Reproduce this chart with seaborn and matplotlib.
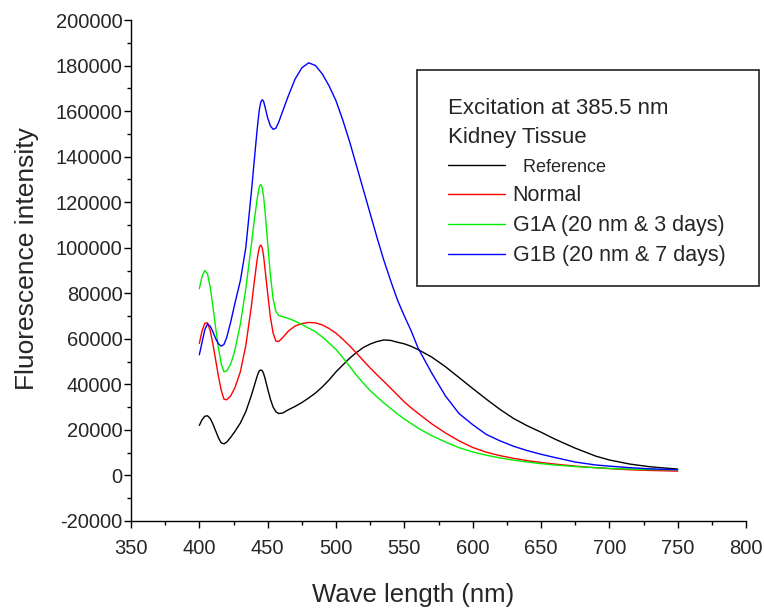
import numpy as np
import pandas as pd
import matplotlib
matplotlib.use("Agg")
import matplotlib.pyplot as plt
import seaborn as sns
from matplotlib.lines import Line2D
from matplotlib.patches import Rectangle
from matplotlib.ticker import MultipleLocator

# ---- data ----
wavelength = [400, 402, 404, 406, 408, 410, 412, 414, 416, 418, 420, 423, 426, 430, 434,
              438, 440, 442, 443, 444, 445, 446, 447, 448, 450, 452, 454, 456, 458, 461,
              465, 470, 475, 480, 485, 490, 495, 500, 505, 510, 515, 520, 525, 530, 535,
              540, 545, 550, 555, 560, 570, 580, 590, 600, 610, 620, 630, 640, 650, 660,
              675, 690, 700, 715, 730, 750]

reference = [22000, 24500, 26000, 26200, 25000, 22500, 19500, 16500, 14300, 13900,
             14600, 16800, 19300, 23000, 28000, 35000, 39000, 43000, 44800, 46000,
             46300, 46000, 44800, 42800, 38000, 33500, 30000, 28000, 27200, 27400,
             28800, 30300, 32000, 34000, 36200, 38900, 42000, 45500, 48500, 51500,
             54000, 56200, 57700, 58800, 59500, 59300, 58500, 57800, 56700, 55300,
             52000, 47800, 43000, 38200, 33500, 29000, 25000, 21800, 19000, 16000,
             12000, 8500, 6800, 5000, 3800, 2800]

normal = [58000, 63500, 66800, 67000, 63500, 57500, 50500, 43500, 37500, 33500,
          33200, 35000, 38500, 45500, 57000, 74000, 84000, 93500, 97500, 100300,
          101200, 100000, 96500, 91000, 80000, 69500, 62500, 59000, 58800, 60500,
          63300, 65600, 66700, 67200, 67000, 66100, 64500, 62500, 59800, 56900,
          53700, 50400, 47200, 44200, 41300, 38300, 35300, 32300, 29700, 27300,
          22700, 18700, 15200, 12300, 10200, 8700, 7500, 6500, 5700, 5000,
          4100, 3400, 3000, 2500, 2200, 1900]

g1a = [82000, 87500, 90000, 88500, 82500, 74000, 64500, 56000, 49000, 45600,
       45800, 49000, 55000, 66500, 82000, 101000, 111000, 120000, 124000, 127000,
       127800, 126500, 122500, 116500, 102000, 88000, 77500, 72000, 70300, 69700,
       69000, 67800, 66300, 64700, 63100, 60800, 58100, 55300, 51700, 47900,
       44000, 40500, 37300, 34500, 31900, 29400, 27000, 24800, 22800, 20800,
       17500, 14700, 12200, 10300, 8900, 7700, 6700, 5900, 5200, 4600,
       3900, 3400, 3100, 2800, 2600, 2500]

g1b = [53000, 58500, 64000, 66500, 65500, 63000, 60000, 57800, 56800, 57500,
       60500, 67500, 75500, 85500, 100000, 124000, 137000, 150000, 156000, 161000,
       164000, 165000, 164300, 162000, 157000, 153500, 152000, 152500, 155000, 160000,
       166500, 174000, 179000, 181200, 180000, 176300, 171000, 164500, 156000, 146500,
       136000, 125500, 115000, 104500, 94500, 85500, 77000, 70000, 63500, 56000,
       45000, 35000, 27200, 22300, 18000, 15200, 12800, 10900, 9300, 7900,
       5900, 4600, 4100, 3400, 2900, 2500]

series_names = ["Reference", "Normal", "G1A (20 nm & 3 days)", "G1B (20 nm & 7 days)"]
series_values = [reference, normal, g1a, g1b]
series_colors = ["#000000", "#FF0000", "#00EE00", "#0000FF"]

x_ticks = [350, 400, 450, 500, 550, 600, 650, 700, 750, 800]
y_ticks = [-20000, 0, 20000, 40000, 60000, 80000, 100000, 120000, 140000, 160000, 180000, 200000]

legend_title = "Excitation at 385.5 nm\nKidney Tissue"

# ---- long-form table ----
frames = []
for name, vals in zip(series_names, series_values):
    frames.append(pd.DataFrame({"wavelength": wavelength, "intensity": vals, "series": name}))
df = pd.concat(frames, ignore_index=True)

sns.set_style("ticks")
plt.rcParams["font.family"] = ["Liberation Sans", "DejaVu Sans"]

W, H = 764, 610
fig = plt.figure(figsize=(W / 100, H / 100), dpi=100)
ax = fig.add_axes([131 / W, 1 - 521 / H, 615 / W, 501 / H])

palette = dict(zip(series_names, series_colors))
sns.lineplot(data=df, x="wavelength", y="intensity", hue="series", palette=palette,
             estimator=None, sort=False, linewidth=1.0, legend=False, ax=ax)

ax.set_xlim(350, 800)
ax.set_ylim(-20000, 200000)
ax.set_xticks(x_ticks)
ax.set_yticks(y_ticks)
ax.set_xticklabels([str(v) for v in x_ticks])
ax.set_yticklabels([str(v) for v in y_ticks])
ax.xaxis.set_minor_locator(MultipleLocator(25))
ax.yaxis.set_minor_locator(MultipleLocator(10000))
ax.tick_params(which="major", direction="out", length=5, width=1, labelsize=14.5, color="black")
ax.tick_params(which="minor", direction="out", length=3, width=1, color="black")
ax.tick_params(axis="x", which="major", pad=8)
ax.tick_params(axis="y", which="major", pad=1)

for s in ["top", "right"]:
    ax.spines[s].set_visible(False)
for s in ["left", "bottom"]:
    ax.spines[s].set_color("black")
    ax.spines[s].set_linewidth(1.0)

ax.set_xlabel("Wave length (nm)", fontsize=18.5)
ax.set_ylabel("Fluorescence intensity", fontsize=19)
ax.xaxis.set_label_coords((413 - 131) / 615, -(595 - 521) / 501)
ax.yaxis.set_label_coords(-(131 - 27) / 615, (521 - 259) / 501)
ax.xaxis.label.set_va("center")
ax.yaxis.label.set_va("center")

# legend box (frame drawn separately for exact size)
box = Rectangle((417 / W, 1 - 286 / H), 342 / W, 216 / H,
                transform=fig.transFigure, fill=True, facecolor="white",
                edgecolor="#333333", linewidth=1.3, zorder=4, clip_on=False)
ax.add_patch(box)

handles = [Line2D([0], [0], color=c, lw=1.0) for c in series_colors]
labels = ["  " + series_names[0]] + series_names[1:]
leg = ax.legend(handles, labels, title=legend_title, loc="upper left",
                bbox_to_anchor=(448 / W, 1 - 98 / H), bbox_transform=fig.transFigure,
                fontsize=15.5, title_fontsize=16, alignment="left",
                frameon=False, borderpad=0, handlelength=2.65, handletextpad=0.35,
                labelspacing=0.42, borderaxespad=0)
leg.get_texts()[0].set_fontsize(13)
leg.get_title().set_linespacing(1.5)
leg.set_zorder(6)

fig.savefig("out.png", dpi=100)
